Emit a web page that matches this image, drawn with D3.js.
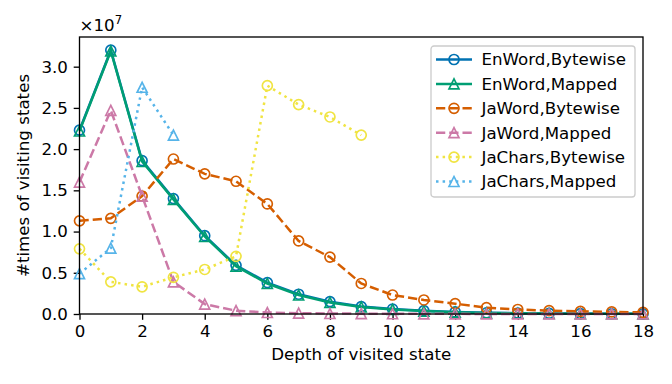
<!DOCTYPE html>
<html lang="en">
  <head>
    <meta charset="UTF-8" />
    <title>Visited states by depth</title>
    <script src="https://cdn.jsdelivr.net/npm/d3@7"></script>
    <style>
      body {
        margin: 0;
        background: #fff;
      }
      text {
        font-family: "DejaVu Sans", sans-serif;
        fill: #000;
      }
    </style>
  </head>
  <body>
    <svg id="chart" width="672" height="384"></svg>
    <script>
      // values in units of 1e7
      let depth = d3.range(0, 19);
      let enWordBytewise = [2.23, 3.2, 1.86, 1.4, 0.95, 0.59, 0.38, 0.24, 0.15, 0.09, 0.06, 0.04, 0.025, 0.015, 0.01, 0.007, 0.005, 0.003, 0.002];
      let enWordMapped = [2.22, 3.19, 1.85, 1.39, 0.94, 0.58, 0.37, 0.23, 0.14, 0.085, 0.055, 0.035, 0.022, 0.013, 0.009, 0.006, 0.004, 0.003, 0.002];
      let jaWordBytewise = [1.13, 1.16, 1.43, 1.88, 1.7, 1.61, 1.335, 0.886, 0.69, 0.37, 0.23, 0.17, 0.125, 0.077, 0.055, 0.04, 0.032, 0.025, 0.02];
      let jaWordMapped = [1.6, 2.47, 1.43, 0.39, 0.12, 0.04, 0.018, 0.01, 0.006, 0.004, 0.003, 0.002, 0.002, 0.001, 0.001, 0.001, 0.001, 0.001, 0.001];
      let jaCharsBytewise = [0.79, 0.39, 0.33, 0.445, 0.54, 0.7, 2.77, 2.54, 2.39, 2.17];
      let jaCharsMapped = [0.49, 0.8, 2.75, 2.17];

      let series = [
        { name: "EnWord,Bytewise", values: enWordBytewise, color: "#0072B2", dash: null, marker: "circle" },
        { name: "EnWord,Mapped", values: enWordMapped, color: "#009E73", dash: null, marker: "triangle" },
        { name: "JaWord,Bytewise", values: jaWordBytewise, color: "#D55E00", dash: "9.25,4", marker: "circle" },
        { name: "JaWord,Mapped", values: jaWordMapped, color: "#CC79A7", dash: "9.25,4", marker: "triangle" },
        { name: "JaChars,Bytewise", values: jaCharsBytewise, color: "#F0E442", dash: "2.5,4.1", marker: "circle" },
        { name: "JaChars,Mapped", values: jaCharsMapped, color: "#56B4E9", dash: "2.5,4.1", marker: "triangle" }
      ];

      let fs = "16.67px";
      let margin = { top: 37, right: 29, bottom: 70, left: 79.5 };
      let width = 672 - margin.left - margin.right;
      let height = 384 - margin.top - margin.bottom;

      let svg = d3.select("#chart");
      let g = svg.append("g").attr("transform", `translate(${margin.left},${margin.top})`);

      let x = d3.scaleLinear().domain([0, 18]).range([0, width]);
      let y = d3.scaleLinear().domain([0, 3.36]).range([height, 0]);

      // axes
      let xAxis = g
        .append("g")
        .attr("transform", `translate(0,${height})`)
        .call(d3.axisBottom(x).tickValues(d3.range(0, 19, 2)).tickSize(5.8).tickPadding(5.8));
      let yAxis = g
        .append("g")
        .call(d3.axisLeft(y).tickValues(d3.range(0, 3.01, 0.5)).tickFormat(d3.format(".1f")).tickSize(5.8).tickPadding(5.8));
      [xAxis, yAxis].forEach(function (a) {
        a.attr("font-size", null).attr("font-family", null);
        a.select(".domain").remove();
        a.selectAll("line").attr("stroke", "#000").attr("stroke-width", 1.33);
        a.selectAll("text").style("font-size", fs).attr("fill", "#000");
      });

      // lines and markers
      let plot = g.append("g");
      let line = d3
        .line()
        .x((d, i) => x(depth[i]))
        .y((d) => y(d));

      function drawMarker(sel, s) {
        if (s.marker == "circle") {
          sel.append("circle").attr("r", 5);
        } else {
          sel.append("path").attr("d", "M0,-5L-5,5L5,5Z");
        }
        sel
          .selectAll("*")
          .attr("fill", "none")
          .attr("stroke", s.color)
          .attr("stroke-width", 1.67);
      }

      series.forEach(function (s) {
        plot
          .append("path")
          .datum(s.values)
          .attr("d", line)
          .attr("fill", "none")
          .attr("stroke", s.color)
          .attr("stroke-width", 2.5)
          .attr("stroke-dasharray", s.dash);
        s.values.forEach(function (v, i) {
          let m = plot.append("g").attr("transform", `translate(${x(depth[i])},${y(v)})`);
          drawMarker(m, s);
        });
      });

      // frame
      g.append("rect")
        .attr("width", width)
        .attr("height", height)
        .attr("fill", "none")
        .attr("stroke", "#000")
        .attr("stroke-width", 1.33);

      // offset text
      g.append("text")
        .attr("x", 0)
        .attr("y", -6)
        .style("font-size", fs)
        .text("×10")
        .append("tspan")
        .attr("dy", -7)
        .style("font-size", "11.7px")
        .text("7");

      // axis labels
      svg
        .append("text")
        .attr("x", margin.left + width / 2)
        .attr("y", 360)
        .attr("text-anchor", "middle")
        .style("font-size", fs)
        .text("Depth of visited state");
      svg
        .append("text")
        .attr("transform", `translate(29,${margin.top + height / 2}) rotate(-90)`)
        .attr("text-anchor", "middle")
        .style("font-size", fs)
        .text("#times of visiting states");

      // legend
      let lg = svg.append("g").attr("transform", "translate(431,46)");
      lg.append("rect")
        .attr("width", 204)
        .attr("height", 151)
        .attr("rx", 3)
        .attr("fill", "#fff")
        .attr("fill-opacity", 0.8)
        .attr("stroke", "#ccc")
        .attr("stroke-width", 1.33);
      series.forEach(function (s, i) {
        let row = lg.append("g").attr("transform", `translate(0,${13.5 + i * 24.4})`);
        row
          .append("line")
          .attr("x1", 5)
          .attr("x2", 41)
          .attr("stroke", s.color)
          .attr("stroke-width", 2.5)
          .attr("stroke-dasharray", s.dash);
        let m = row.append("g").attr("transform", "translate(23,0)");
        drawMarker(m, s);
        row
          .append("text")
          .attr("x", 50.5)
          .attr("dy", "0.35em")
          .style("font-size", fs)
          .text(s.name);
      });
    </script>
  </body>
</html>
